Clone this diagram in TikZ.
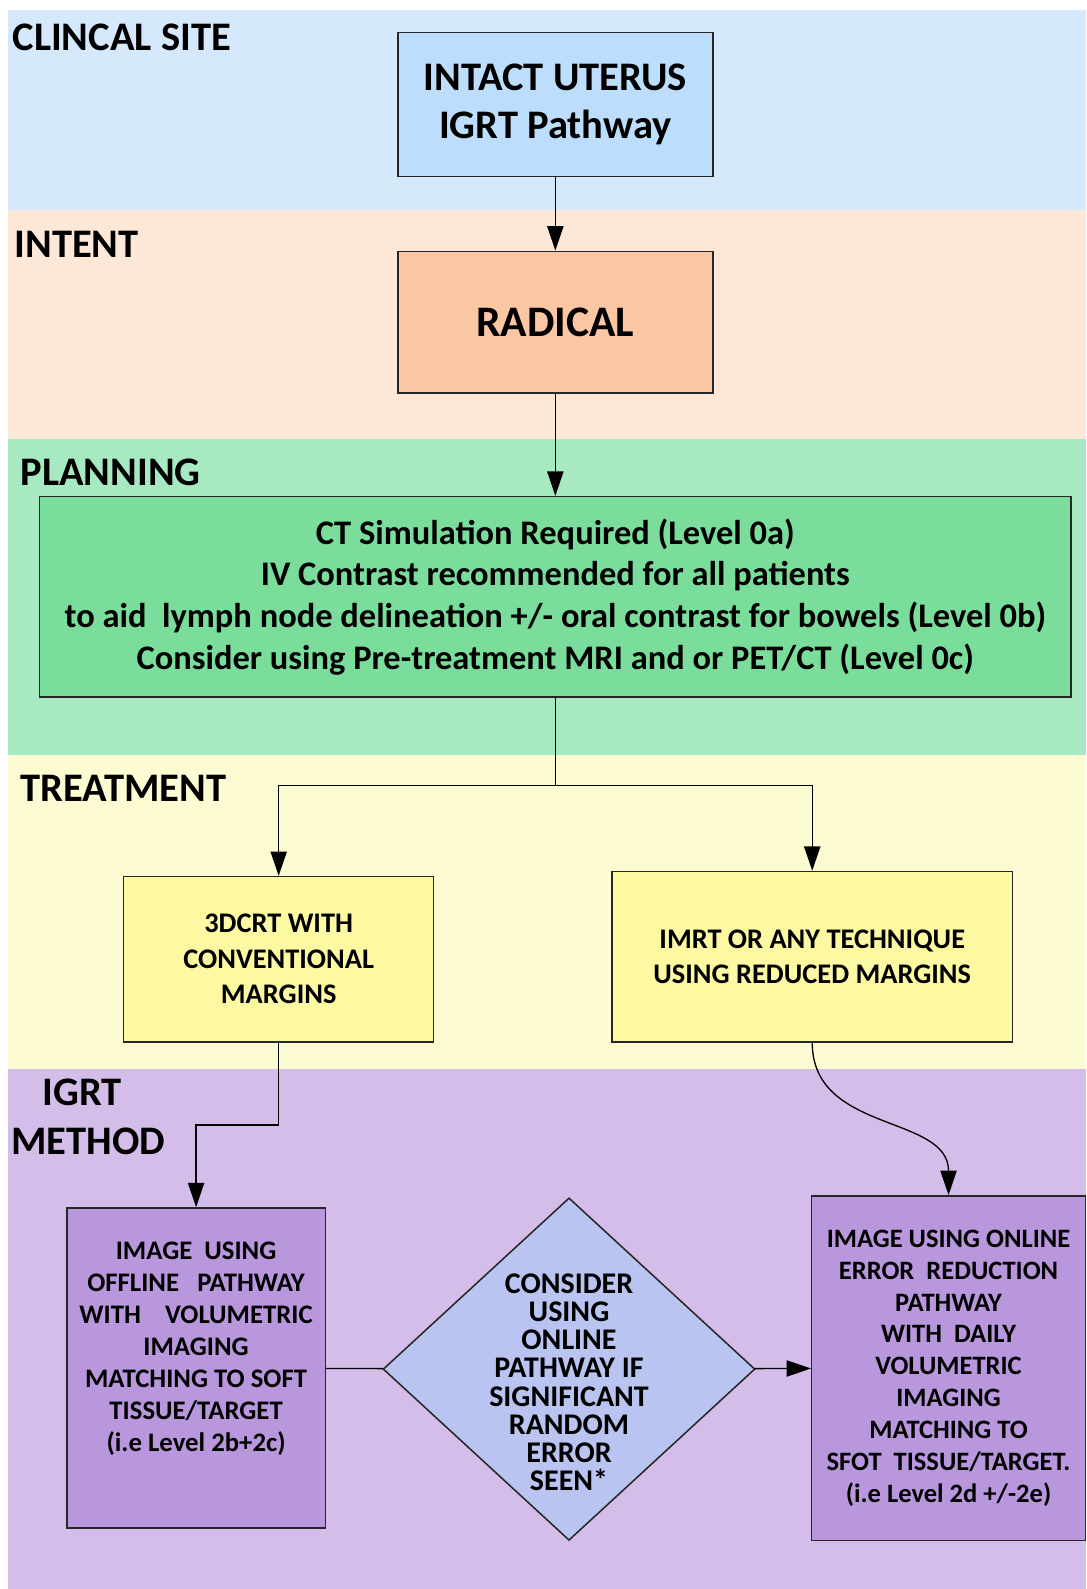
\documentclass[tikz,border=0pt]{standalone}
\usepackage{fontspec}
\setmainfont{Carlito}
\usetikzlibrary{shapes.geometric,arrows.meta}

\definecolor{siteband}{HTML}{D5E8FC}
\definecolor{sitebox}{HTML}{BCDDFB}
\definecolor{intentband}{HTML}{FDE8D8}
\definecolor{intentbox}{HTML}{FBC6A4}
\definecolor{planband}{HTML}{A7EAC2}
\definecolor{planbox}{HTML}{7BDD9B}
\definecolor{treatband}{HTML}{FDFBD2}
\definecolor{treatbox}{HTML}{FDF8A2}
\definecolor{igrtband}{HTML}{D5BDEA}
\definecolor{igrtbox}{HTML}{B997DD}
\definecolor{checkfill}{HTML}{B9C4F1}

\tikzset{
  box/.style={draw=black!85, line width=0.75pt, inner sep=0pt, align=center},
  arr/.style={-{Triangle[length=12pt,width=8pt]}, line width=0.65pt},
  band/.style={anchor=west, inner sep=0pt, font=\bfseries\fontsize{20}{24.5}\selectfont},
}

\begin{document}
\begin{tikzpicture}[x=0.5pt,y=-0.5pt]
  \useasboundingbox (0,0) rectangle (1072,1568);
  % the five bands
  \fill[siteband] (8,10) rectangle (1072,207);
  \fill[intentband] (8,207) rectangle (1072,433);
  \fill[planband] (8,433) rectangle (1072,745);
  \fill[treatband] (8,745) rectangle (1072,1055);
  \fill[igrtband] (8,1055) rectangle (1072,1568);
  \node[band] (site) at (12,37) {CLINCAL SITE};
  \node[band] (intent) at (14,241) {INTENT};
  \node[band] (planning) at (20,466) {PLANNING};
  \node[band] (treatment) at (20,778) {TREATMENT};
  \node[band, anchor=center, align=center] (method) at (87,1102) {IGRT\kern6pt\\METHOD};
  % boxes
  \node[box, fill=sitebox, minimum width=155.5pt, minimum height=71pt,
        font=\bfseries\fontsize{20}{24}\selectfont] (uterus) at (548,103)
        {INTACT UTERUS\\IGRT Pathway};
  \node[box, fill=intentbox, minimum width=155.5pt, minimum height=70pt,
        font=\bfseries\fontsize{21.5}{24}\selectfont] (radical) at (548,318) {RADICAL};
  \node[box, fill=planbox, minimum width=509pt, minimum height=99pt,
        font=\bfseries\fontsize{17}{20.5}\selectfont] (ct) at (548,589)
        {CT Simulation Required (Level 0a)\\
         IV Contrast recommended for all patients\\
         to aid~ lymph node delineation +/- oral contrast for bowels (Level 0b)\\
         Consider using Pre-treatment MRI and or PET/CT (Level 0c)};
  \node[box, fill=treatbox, minimum width=153pt, minimum height=81.5pt,
        font=\bfseries\fontsize{14}{17.5}\selectfont] (crt) at (275,946.5)
        {3DCRT WITH\\CONVENTIONAL\\MARGINS};
  \node[box, fill=treatbox, minimum width=197.5pt, minimum height=84pt,
        font=\bfseries\fontsize{14}{17.5}\selectfont] (imrt) at (801.5,944)
        {IMRT OR ANY TECHNIQUE\\USING REDUCED MARGINS};
  \node[box, fill=igrtbox, minimum width=127.5pt, minimum height=158pt,
        label={[align=center, yshift=9.5pt, font=\bfseries\fontsize{13.2}{15.75}\selectfont]center:
        IMAGE~ USING\\OFFLINE~~ PATHWAY\\WITH~~~ VOLUMETRIC\\IMAGING\\MATCHING TO SOFT\\
        TISSUE/TARGET\\(i.e Level 2b+2c)}] (offline) at (193.5,1350) {};
  \node[diamond, draw=black!85, line width=0.75pt, fill=checkfill, inner sep=0pt,
        minimum width=183.5pt, minimum height=169pt,
        label={[align=center, yshift=-6.5pt, font=\bfseries\fontsize{14.8}{13.85}\selectfont]center:
        CONSIDER\\USING\\ONLINE\\PATHWAY IF\\SIGNIFICANT\\RANDOM\\ERROR\\SEEN*}] (check) at (561.5,1351) {};
  \node[box, fill=igrtbox, minimum width=135pt, minimum height=170pt,
        font=\bfseries\fontsize{13.1}{15.7}\selectfont] (online) at (936,1350)
        {IMAGE USING ONLINE\\ERROR~ REDUCTION\\PATHWAY\\WITH~ DAILY\\VOLUMETRIC\\IMAGING\\
         MATCHING TO\\SFOT~ TISSUE/TARGET.\\(i.e Level 2d +/-2e)};
  % connectors
  \coordinate (split) at (548,775);
  \coordinate (crtbend) at (275,1110);
  \draw[arr] (uterus) -- (radical);
  \draw[arr] (radical) -- (ct);
  \draw[line width=0.65pt] (ct.south) -- (split);
  \draw[arr] (split) -| (crt);
  \draw[arr] (split) -| (imrt);
  \draw[arr] (crt) -- (crtbend) -| (offline);
  \draw[arr] (imrt.south) .. controls +(0,90) and +(0,-80) .. (online.north);
  \draw[line width=0.65pt] (offline) -- (check);
  \draw[arr] (check) -- (online);
\end{tikzpicture}
\end{document}
